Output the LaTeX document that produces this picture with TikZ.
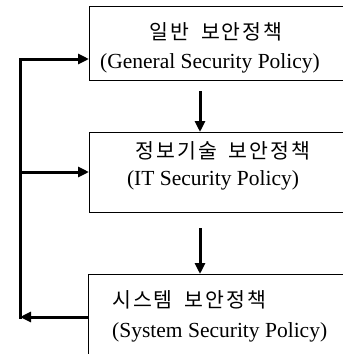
\documentclass[tikz,border=0pt]{standalone}
\usepackage{fontspec}
\setmainfont{Liberation Serif}
\newfontfamily\kor{Noto Sans CJK KR}
\newcommand\kk{\kern2pt}
\newcommand\ksp{\hspace{12pt}}
\usetikzlibrary{arrows.meta}
\begin{document}
\begin{tikzpicture}[x=1pt,y=-1pt,
  pbox/.style={draw,line width=0.8pt,minimum width=#1,inner sep=0pt,outer sep=0pt},
  kt/.style={font=\kor\fontsize{20.5}{21}\selectfont,inner sep=0pt,anchor=base},
  et/.style={font=\fontsize{21.5}{22}\selectfont,inner sep=0pt,anchor=base},
  flow/.style={line width=3pt,-{Triangle[length=11pt,width=10pt]}},
  lnk/.style={line width=3pt}]
\useasboundingbox (0,0) rectangle (343,354);
\node[pbox=320pt,minimum height=74pt] (b1) at (249,43) {};
\node[pbox=320pt,minimum height=80pt] (b2) at (249,172) {};
\node[pbox=320pt,minimum height=110pt] (b3) at (248,329) {};
\node[kt] (k1) at (216,39) {일\kk 반\ksp 보\kk 안\kk 정\kk 책};
\node[et] (e1) at (210,68) {(General Security Policy)};
\node[kt] (k2) at (223,158) {정\kk 보\kk 기\kk 술\ksp 보\kk 안\kk 정\kk 책};
\node[et] (e2) at (213,185) {(IT Security Policy)};
\node[kt,anchor=base west] (k3) at (112,307) {시\kk 스\kk 템\ksp 보\kk 안\kk 정\kk 책};
\node[et,anchor=base west] (e3) at (112,337) {(System Security Policy)};
\coordinate (t1) at (200,91);
\coordinate (t2) at (200,228);
\draw[flow] (t1) -- (b2.north -| t1);
\draw[flow] (t2) -- (b3.north -| t2);
\coordinate (c1) at (20,59);
\coordinate (c2) at (20,172);
\coordinate (c3) at (20,317);
\draw[flow] (b3.west |- c3) -- (c3);
\draw[lnk,line cap=rect] (c3) -- (c1);
\draw[flow] (c1) -- (b1.west |- c1);
\draw[flow] (c2) -- (b2.west |- c2);
\end{tikzpicture}
\end{document}
